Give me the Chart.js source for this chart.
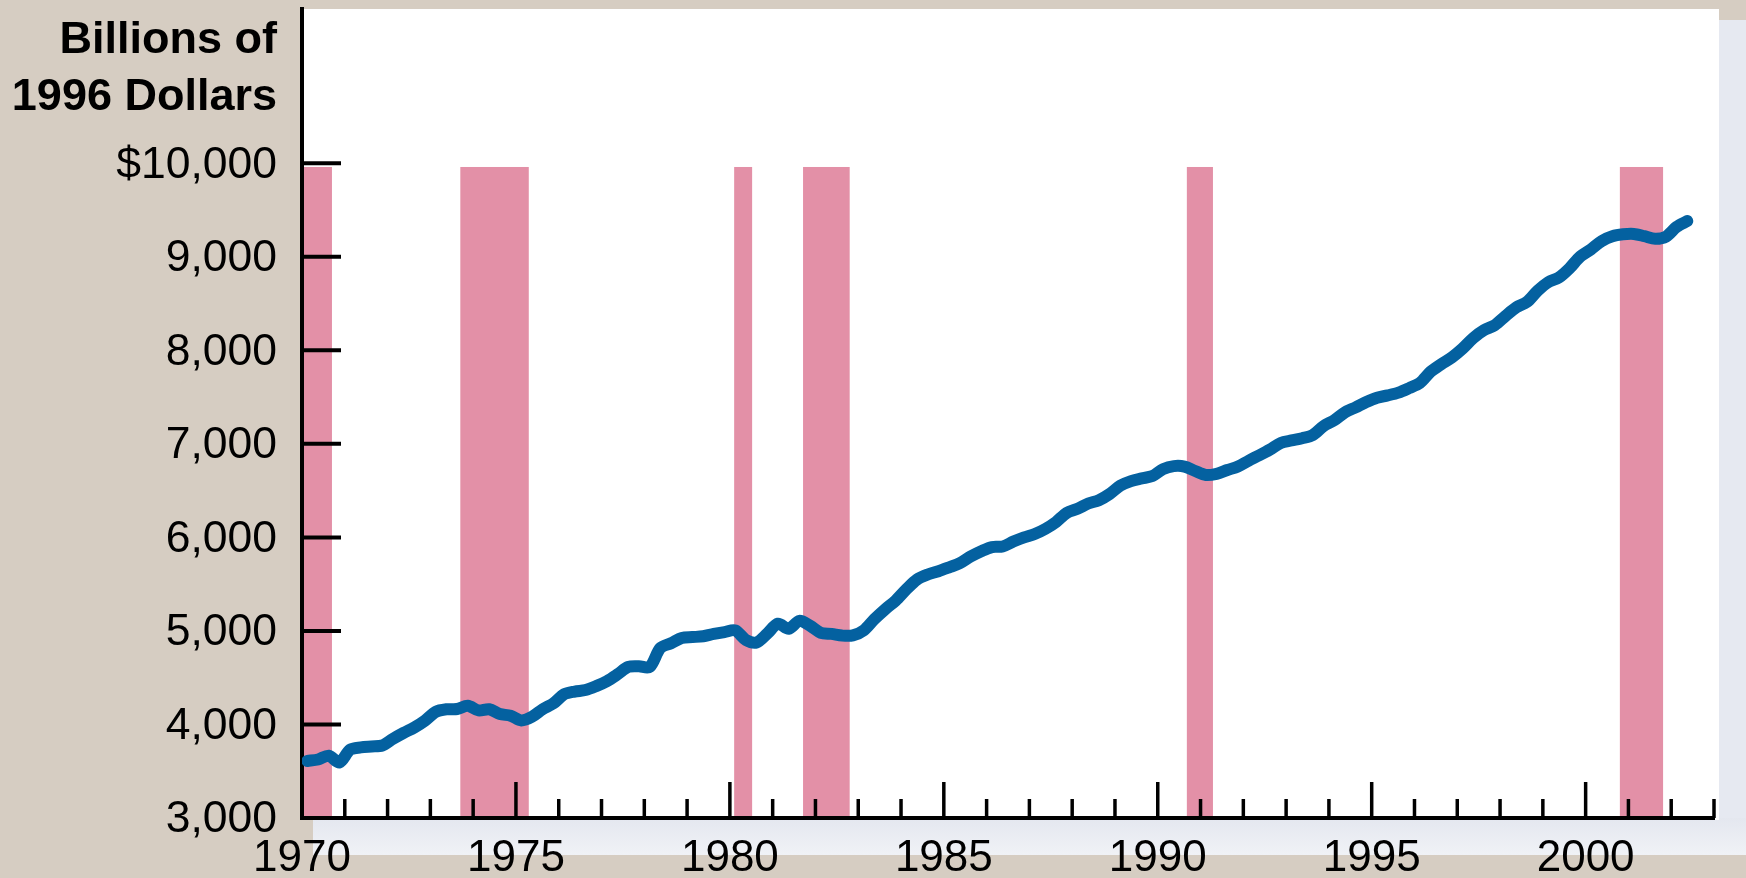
<!DOCTYPE html>
<html><head><meta charset="utf-8">
<script src="https://cdn.jsdelivr.net/npm/chart.js@4/dist/chart.umd.min.js"></script>
<style>html,body{margin:0;padding:0;background:#d6cdc2;overflow:hidden}#wrap{width:1746px;height:878px}</style>
</head><body><div id="wrap"><canvas id="c" width="1746" height="878"></canvas></div>
<script>
// ---- data ----
const firstYear = 1970;
const realGDP = [
  3610, 3625, 3666, 3594,   // 1970
  3730, 3755, 3765, 3775,   // 1971
  3846, 3910, 3968, 4042,   // 1972
  4135, 4162, 4165, 4200,   // 1973
  4150, 4163, 4111, 4094,   // 1974
  4043, 4082, 4163, 4225,   // 1975
  4322, 4352, 4368, 4410,   // 1976
  4463, 4536, 4615, 4622,   // 1977
  4614, 4817, 4868, 4925,   // 1978
  4934, 4943, 4968, 4988,   // 1979
  5005, 4904, 4877, 4972,   // 1980
  5077, 5022, 5108, 5055,   // 1981
  4980, 4968, 4950, 4952,   // 1982
  5005, 5125, 5230, 5325,   // 1983
  5445, 5550, 5603, 5638,   // 1984
  5680, 5724, 5795, 5852,   // 1985
  5897, 5903, 5955, 6000,   // 1986
  6036, 6091, 6165, 6263,   // 1987
  6306, 6362, 6397, 6464,   // 1988
  6553, 6602, 6630, 6656,   // 1989
  6730, 6762, 6757, 6710,   // 1990
  6667, 6680, 6720, 6758,   // 1991
  6820, 6878, 6940, 7010,   // 1992
  7036, 7060, 7094, 7190,   // 1993
  7252, 7337, 7390, 7447,   // 1994
  7493, 7518, 7548, 7596,   // 1995
  7650, 7770, 7852, 7925,   // 1996
  8020, 8132, 8215, 8268,   // 1997
  8366, 8458, 8516, 8635,   // 1998
  8728, 8778, 8878, 9003,   // 1999
  9080, 9168, 9220, 9240,   // 2000
  9244, 9220, 9193, 9215,   // 2001
  9320, 9382                // 2002
];
const recessionStarts = [1970.00, 1973.70, 1980.10, 1981.71, 1990.68, 2000.80];
const recessionEnds   = [1970.70, 1975.30, 1980.52, 1982.80, 1991.29, 2001.81];
const recessionTop = 9960;
const yTickValues = [3000, 4000, 5000, 6000, 7000, 8000, 9000, 10000];
const yTickLabels = ['3,000', '4,000', '5,000', '6,000', '7,000', '8,000', '9,000', '$10,000'];
const xTickValues = [1970, 1975, 1980, 1985, 1990, 1995, 2000];
const xTickLabels = ['1970', '1975', '1980', '1985', '1990', '1995', '2000'];
const xMinorYears = [1971,1972,1973,1974,1975,1976,1977,1978,1979,1980,1981,1982,1983,1984,1985,1986,1987,1988,1989,1990,1991,1992,1993,1994,1995,1996,1997,1998,1999,2000,2001,2002,2003];
const axisTitle = ['Billions of', '1996 Dollars'];

// quarter categories
const quarters = realGDP.map((_, i) => (firstYear + Math.floor(i / 4)) + 'Q' + (i % 4 + 1));
const points = quarters.map((q, i) => {
  const yr = parseInt(q.slice(0, 4), 10), qn = parseInt(q.slice(5), 10);
  return { x: yr + (qn - 0.5) / 4, y: realGDP[i] };
});

const FONT = '"Liberation Sans", Arial, Helvetica, sans-serif';

const backdrop = {
  id: 'backdrop',
  beforeDraw(chart) {
    const { ctx, chartArea: a, scales: { x, y } } = chart;
    ctx.save();
    ctx.fillStyle = '#d6cdc2';
    ctx.fillRect(0, 0, chart.width, chart.height);
    // shadow
    const sx = a.left + 11, sy = a.top + 11, sr = chart.width, sb = a.bottom + 37;
    ctx.fillStyle = '#e6e9f1';
    ctx.fillRect(sx, sy, sr - sx, sb - sy);
    const g = ctx.createLinearGradient(0, a.bottom, 0, sb);
    g.addColorStop(0, '#e4e7ef');
    g.addColorStop(1, '#f0f2f6');
    ctx.fillStyle = g;
    ctx.fillRect(sx, a.bottom, sr - sx, sb - a.bottom);
    // white panel
    ctx.fillStyle = '#ffffff';
    ctx.fillRect(a.left, a.top, a.right + 5 - a.left, a.bottom + 2 - a.top);
    // recession bars
    ctx.fillStyle = '#e390a7';
    const yt = y.getPixelForValue(recessionTop), yb = y.getPixelForValue(3000);
    recessionStarts.forEach((s, i) => {
      const x0 = x.getPixelForValue(s), x1 = x.getPixelForValue(recessionEnds[i]);
      ctx.fillRect(x0, yt, x1 - x0, yb - yt);
    });
    ctx.restore();
  }
};

const innerTicks = {
  id: 'innerTicks',
  beforeDatasetsDraw(chart) {
    const { ctx, chartArea: a, scales: { x, y } } = chart;
    ctx.save();
    ctx.strokeStyle = '#000';
    ctx.lineCap = 'butt';
    ctx.lineWidth = 4;
    yTickValues.forEach(v => {
      if (v === 3000) return;
      const py = y.getPixelForValue(v);
      ctx.beginPath(); ctx.moveTo(a.left, py); ctx.lineTo(a.left + 39, py); ctx.stroke();
    });
    ctx.lineWidth = 3.5;
    xMinorYears.forEach(yr => {
      const px = x.getPixelForValue(yr);
      const len = (yr % 5 === 0) ? 36 : 19;
      ctx.beginPath(); ctx.moveTo(px, a.bottom); ctx.lineTo(px, a.bottom - len); ctx.stroke();
    });
    ctx.restore();
  }
};

const titleText = {
  id: 'titleText',
  afterDraw(chart) {
    const { ctx } = chart;
    ctx.save();
    ctx.fillStyle = '#000';
    ctx.font = 'bold 45px ' + FONT;
    ctx.textAlign = 'right';
    ctx.textBaseline = 'alphabetic';
    ctx.fillText(axisTitle[0], 277, 53);
    ctx.fillText(axisTitle[1], 277, 110);
    ctx.restore();
  }
};

new Chart(document.getElementById('c'), {
  type: 'line',
  data: {
    datasets: [{
      label: 'Real GDP',
      data: points,
      borderColor: '#0461a0',
      borderWidth: 12,
      borderCapStyle: 'round',
      borderJoinStyle: 'round',
      pointRadius: 0,
      tension: 0.3,
      fill: false
    }]
  },
  options: {
    responsive: false,
    animation: false,
    devicePixelRatio: 1,
    layout: { padding: { left: 0, right: 32, top: 9, bottom: 0 } },
    plugins: { legend: { display: false }, tooltip: { enabled: false }, title: { display: false } },
    scales: {
      x: {
        type: 'linear',
        min: 1970,
        max: 2003,
        grid: { display: true, drawOnChartArea: false, drawTicks: false, color: 'rgba(0,0,0,0)' },
        border: { display: true, width: 4, color: '#000' },
        ticks: {
          color: '#000',
          font: { family: FONT, size: 44, lineHeight: 1 },
          padding: 19,
          maxRotation: 0,
          autoSkip: false,
          callback: (v) => { const i = xTickValues.indexOf(v); return i >= 0 ? xTickLabels[i] : ''; }
        },
        afterBuildTicks: (s) => { s.ticks = xTickValues.map(v => ({ value: v })); },
        afterFit: (s) => { s.height = 60; s.paddingLeft = 0; s.paddingRight = 0; }
      },
      y: {
        type: 'linear',
        min: 3000,
        max: 11649,
        grid: { display: true, drawOnChartArea: false, drawTicks: false, color: 'rgba(0,0,0,0)' },
        border: { display: true, width: 4, color: '#000' },
        ticks: {
          color: '#000',
          font: { family: FONT, size: 44.5, lineHeight: 1 },
          padding: 25,
          labelOffset: 2,
          autoSkip: false,
          callback: (v) => { const i = yTickValues.indexOf(v); return i >= 0 ? yTickLabels[i] : ''; }
        },
        afterBuildTicks: (s) => { s.ticks = yTickValues.map(v => ({ value: v })); },
        afterFit: (s) => { s.width = 302; s.paddingTop = 0; s.paddingBottom = 0; }
      }
    }
  },
  plugins: [backdrop, innerTicks, titleText]
});
</script>
</body></html>
